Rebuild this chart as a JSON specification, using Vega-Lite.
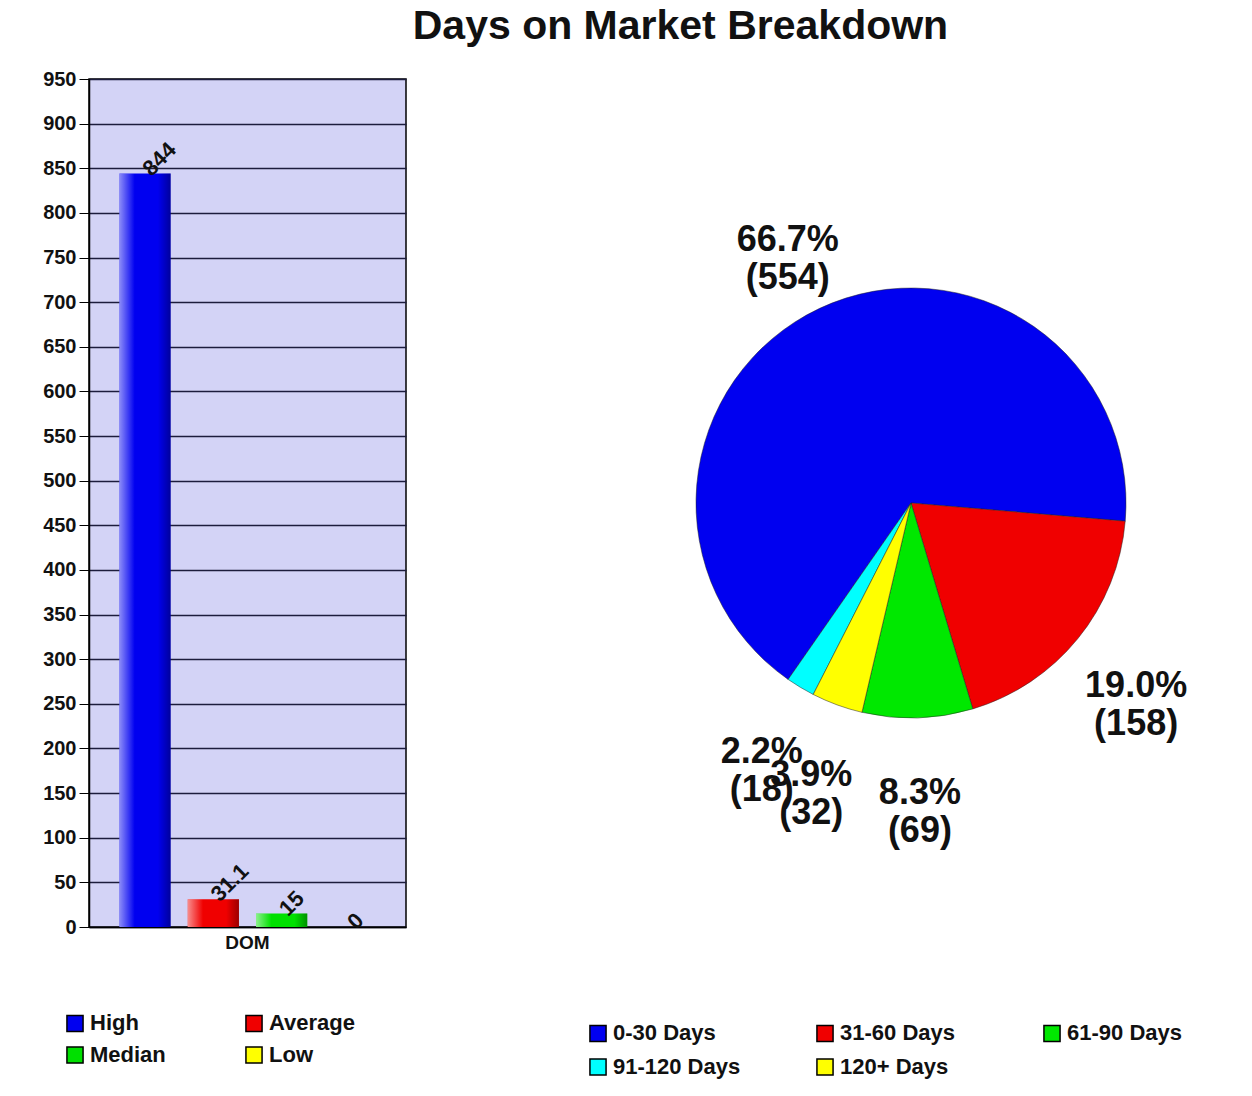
{
  "$schema": "https://vega.github.io/schema/vega-lite/v6.json",
  "background": "white",
  "padding": {"left": 41, "top": 6, "right": 5, "bottom": 5},
  "title": {"text": "Days on Market Breakdown", "fontSize": 41, "font": "Liberation Sans", "fontWeight": "bold", "anchor": "middle", "dx": 44, "offset": 20, "color": "#111"},
  "config": {"font": "Liberation Sans", "view": {"stroke": null}},
  "spacing": 180,
  "resolve": {"scale": {"color": "independent"}, "legend": {"color": "independent"}},
  "hconcat": [
    {
      "width": 317,
      "height": 848,
      "view": {"fill": "#d3d3f6", "stroke": "#000", "strokeWidth": 1.5},
      "data": {"values": [
        {"category": "DOM", "series": "High", "value": 844},
        {"category": "DOM", "series": "Average", "value": 31.1},
        {"category": "DOM", "series": "Median", "value": 15},
        {"category": "DOM", "series": "Low", "value": 0}
      ]},
      "encoding": {
        "x": {"field": "category", "type": "nominal", "scale": {"paddingInner": 0, "paddingOuter": 0.08},
          "axis": {"title": null, "labelAngle": 0, "labelFontSize": 19, "labelFontWeight": "bold", "labelColor": "#111", "ticks": false, "domainColor": "#000", "domainWidth": 1.5, "labelPadding": 6}},
        "xOffset": {"field": "series", "type": "nominal", "scale": {"domain": ["High", "Average", "Median", "Low"], "paddingInner": 0.25, "paddingOuter": 0.125}},
        "y": {"field": "value", "type": "quantitative", "scale": {"domain": [0, 950], "nice": false},
          "axis": {"values": [0, 50, 100, 150, 200, 250, 300, 350, 400, 450, 500, 550, 600, 650, 700, 750, 800, 850, 900, 950], "title": null, "labelFontSize": 20, "labelFontWeight": "bold", "labelColor": "#111", "gridColor": "#1c1c3c", "gridOpacity": 1, "gridWidth": 1.3, "tickColor": "#000", "tickSize": 10, "domainColor": "#000", "domainWidth": 1.5, "labelPadding": 3}}
      },
      "layer": [
        {
          "mark": {"type": "bar"},
          "encoding": {
            "color": {"field": "series", "type": "nominal",
              "scale": {"domain": ["High", "Average", "Median", "Low"], "range": ["#0000f0", "#f00000", "#00e000", "#ffff00"]},
              "legend": {"orient": "none", "direction": "horizontal", "legendX": -25, "legendY": 933, "columns": 2, "title": null, "symbolType": "square", "symbolSize": 260, "symbolStrokeColor": "#000", "symbolStrokeWidth": 1.5, "labelFontSize": 22, "labelFontWeight": "bold", "labelColor": "#111", "columnPadding": 65, "rowPadding": 8, "gridAlign": "all"}}
          }
        },
        {
          "mark": {"type": "bar", "color": {"gradient": "linear", "x1": 0, "x2": 1, "y1": 0, "y2": 0, "stops": [{"offset": 0, "color": "rgba(255,255,255,0.55)"}, {"offset": 0.3, "color": "rgba(255,255,255,0)"}, {"offset": 0.75, "color": "rgba(0,0,0,0)"}, {"offset": 1, "color": "rgba(0,0,0,0.35)"}]}}
        },
        {
          "mark": {"type": "text", "angle": 315, "align": "left", "baseline": "middle", "fontSize": 22, "fontWeight": "bold", "color": "#111", "dx": 2},
          "encoding": {"text": {"field": "value", "type": "quantitative"}}
        }
      ]
    },
    {
      "width": 640,
      "height": 848,
      "data": {"values": [
        {"range": "0-30 Days", "count": 554, "label": "66.7%\n(554)"},
        {"range": "31-60 Days", "count": 158, "label": "19.0%\n(158)"},
        {"range": "61-90 Days", "count": 69, "label": "8.3%\n(69)"},
        {"range": "91-120 Days", "count": 18, "label": "2.2%\n(18)"},
        {"range": "120+ Days", "count": 32, "label": "3.9%\n(32)"}
      ]},
      "encoding": {
        "theta": {"field": "count", "type": "quantitative", "stack": true, "scale": {"range": [3.75, 10.033]}},
        "order": {"field": "count", "type": "quantitative", "sort": "descending"}
      },
      "layer": [
        {
          "mark": {"type": "arc", "outerRadius": 215, "stroke": "#222", "strokeWidth": 0.5},
          "encoding": {
            "color": {"field": "range", "type": "nominal",
              "scale": {"domain": ["0-30 Days", "31-60 Days", "61-90 Days", "91-120 Days", "120+ Days"], "range": ["#0000f0", "#f00000", "#00e800", "#00ffff", "#ffff00"]},
              "legend": {"orient": "none", "direction": "horizontal", "legendX": -4, "legendY": 943, "columns": 3, "title": null, "symbolType": "square", "symbolSize": 260, "symbolStrokeColor": "#000", "symbolStrokeWidth": 1.5, "labelFontSize": 22, "labelFontWeight": "bold", "labelColor": "#111", "columnPadding": 72, "rowPadding": 10, "gridAlign": "all"}}
          }
        },
        {
          "mark": {"type": "text", "radius": 290, "fontSize": 36, "fontWeight": "bold", "lineBreak": "\n", "color": "#111"},
          "encoding": {"text": {"field": "label", "type": "nominal"}, "detail": {"field": "range", "type": "nominal"}}
        }
      ]
    }
  ]
}
